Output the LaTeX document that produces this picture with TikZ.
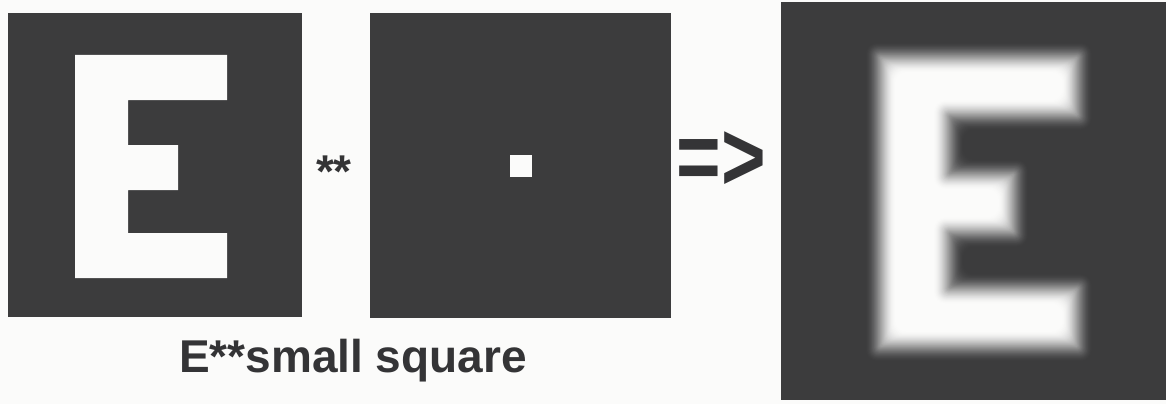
\documentclass[tikz,border=0pt]{standalone}
\usepackage{fontspec}
\setmainfont{Liberation Sans}
\usepackage{xcolor}
\usepackage{tikz}
\usetikzlibrary{positioning}

\definecolor{panelgray}{RGB}{60,60,61}
\definecolor{inkgray}{RGB}{52,52,54}
\definecolor{paper}{RGB}{251,251,250}

\newcommand{\Eoutline}[1]{({0-(#1)},{0-(#1)}) -- ({152+(#1)},{0-(#1)}) -- ({152+(#1)},{45+(#1)})
  -- ({53+(#1)},{45+(#1)}) -- ({53+(#1)},{90-(#1)}) -- ({103+(#1)},{90-(#1)})
  -- ({103+(#1)},{135+(#1)}) -- ({53+(#1)},{135+(#1)}) -- ({53+(#1)},{178-(#1)})
  -- ({152+(#1)},{178-(#1)}) -- ({152+(#1)},{223+(#1)}) -- ({0-(#1)},{223+(#1)}) -- cycle}

\begin{document}
\begin{tikzpicture}[
  x=1pt, y=-1pt,
  panel/.style={rectangle, fill=panelgray, inner sep=0pt, outer sep=0pt},
  caption/.style={text=inkgray, font=\bfseries\fontsize{46}{50}\selectfont, inner sep=0pt},
  yields/.style={text=inkgray, font=\bfseries\fontsize{98}{100}\selectfont, inner sep=0pt, xscale=0.78}
]
\useasboundingbox[fill=paper] (0,0) rectangle (1166,404);

\node[panel, minimum width=294pt, minimum height=304pt] (letter) at (155,165) {};
\node[panel, minimum width=301pt, minimum height=305pt] (psf) at (520.5,165.5) {};
\node[panel, minimum width=385pt, minimum height=398pt] (result) at (973.5,201) {};
\node[panel, fill=paper, minimum size=22pt] (impulse) at (psf) {};

\begin{scope}[shift={(75,55)}]
  \fill[paper] \Eoutline{0};
\end{scope}

\begin{scope}[shift={(880,57)}, scale=1.3]
  \foreach \d in {12,11.5,...,-12} {
    \pgfmathsetmacro\t{(12-\d)/24}
    \pgfmathsetmacro\f{100*\t*\t*(3-2*\t)}
    \pgfmathsetmacro\r{abs(\d)*0.9+1}
    \fill[paper!\f!panelgray, rounded corners=\r pt] \Eoutline{\d};
  }
\end{scope}

\node[caption, anchor=base] (conv) at (334,187) {**};
\node[yields, anchor=base] (arrow) at (721,190) {=>};
\node[caption, anchor=base] (label) at (353,372) {E**small square};

\end{tikzpicture}
\end{document}
